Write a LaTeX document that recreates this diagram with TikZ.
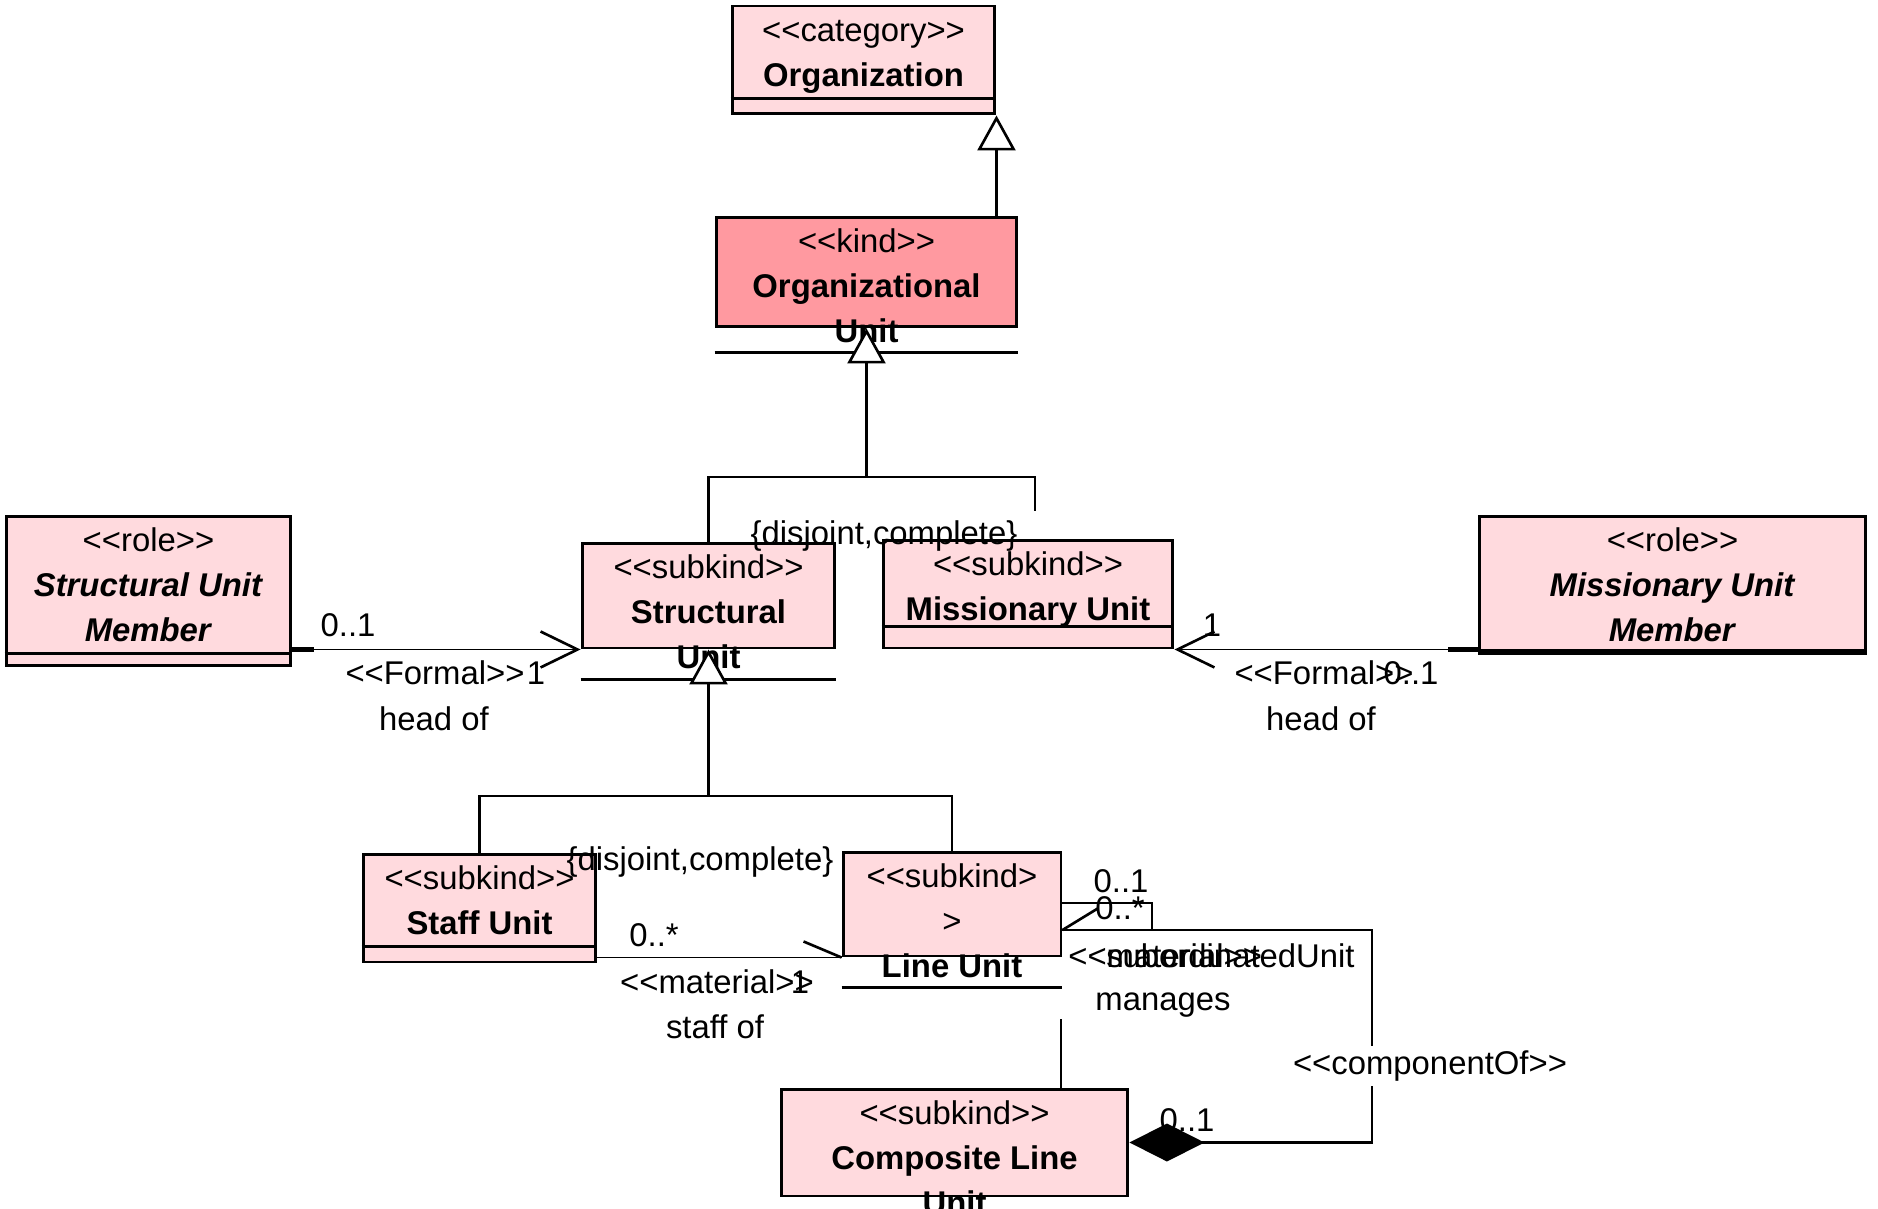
\documentclass[tikz,border=0pt]{standalone}
\usepackage{fontspec}
\setmainfont{Liberation Sans}[Ligatures=TeXOff]
\usetikzlibrary{arrows.meta}
\definecolor{classfill}{HTML}{FFDADE}
\definecolor{kindfill}{HTML}{FF99A0}

\begin{document}
\begin{tikzpicture}
    [x=0.02cm, y=-0.02cm,
    every node/.style={font=\fontsize{18.7}{25.6}\selectfont},
    class/.style={rectangle, draw, line width=1.7pt, fill=classfill, inner sep=0pt},
    kind/.style={class, fill=kindfill},
    title/.style={anchor=north, align=center, inner sep=0pt, yshift=-0.11cm},
    sep/.style={line width=1.7pt},
    genline/.style={line width=1.5pt},
    gen/.style={genline, -{Triangle[length=0.7cm, width=0.76cm, fill=white]}},
    assoc/.style={line width=0.9pt, -{Straight Barb[length=0.74cm, width=0.72cm, line width=1.5pt]}},
    link/.style={line width=1.5pt},
    stub/.style={line width=2.5pt},
    comp/.style={line width=1.5pt, {Diamond[length=1.5cm, width=0.76cm]}-},
    lbl/.style={inner sep=0pt},
    cut/.style={fill=white, inner sep=0.1cm}]

    \useasboundingbox (0,0) rectangle (1878,1209);

    % class boxes
    \node[class, minimum width=5.26cm, minimum height=2.16cm] (org) at (863.5,60) {};
    \node[kind, minimum width=6.02cm, minimum height=2.20cm] (ou) at (866.5,272) {};
    \node[class, minimum width=5.06cm, minimum height=2.10cm] (su) at (708.5,595.5) {};
    \node[class, minimum width=5.80cm, minimum height=2.16cm] (mu) at (1028,594) {};
    \node[class, minimum width=5.70cm, minimum height=3.00cm] (sum) at (148.5,591) {};
    \node[class, minimum width=7.74cm, minimum height=2.76cm] (mum) at (1672.5,585) {};
    \node[class, minimum width=4.66cm, minimum height=2.16cm] (staff) at (479.5,908) {};
    \node[class, minimum width=4.36cm, minimum height=2.08cm] (line) at (952,904) {};
    \node[class, minimum width=6.94cm, minimum height=2.14cm] (clu) at (954.5,1142.5) {};

    % class names
    \node[title] (orgT) at (org.north) {\strut<<category>>\\\textbf{Organization}};
    \node[title] (ouT) at (ou.north) {\strut<<kind>>\\\textbf{Organizational}\\\textbf{Unit}};
    \node[title] (suT) at (su.north) {\strut<<subkind>>\\\textbf{Structural}\\\textbf{Unit}};
    \node[title] (muT) at (mu.north) {\strut<<subkind>>\\\textbf{Missionary Unit}};
    \node[title] (sumT) at (sum.north) {\strut<<role>>\\\textbf{\itshape Structural Unit}\\\textbf{\itshape Member}};
    \node[title] (mumT) at (mum.north) {\strut<<role>>\\\textbf{\itshape Missionary Unit}\\\textbf{\itshape Member}};
    \node[title] (staffT) at (staff.north) {\strut<<subkind>>\\\textbf{Staff Unit}};
    \node[title] (lineT) at (line.north) {\strut<<subkind>\\>\\\textbf{Line Unit}};
    \node[title] (cluT) at (clu.north) {\strut<<subkind>>\\\textbf{Composite Line}\\\textbf{Unit}};

    % compartment lines
    \draw[sep] ([yshift=0.34cm]org.south west) -- ([yshift=0.34cm]org.south east);
    \draw[sep] ([yshift=-0.48cm]ou.south west) -- ([yshift=-0.48cm]ou.south east);
    \draw[sep] ([yshift=-0.6cm]su.south west) -- ([yshift=-0.6cm]su.south east);
    \draw[sep] ([yshift=0.46cm]mu.south west) -- ([yshift=0.46cm]mu.south east);
    \draw[sep] ([yshift=0.28cm]sum.south west) -- ([yshift=0.28cm]sum.south east);
    \draw[sep] ([yshift=0.1cm]mum.south west) -- ([yshift=0.1cm]mum.south east);
    \draw[sep] ([yshift=0.34cm]staff.south west) -- ([yshift=0.34cm]staff.south east);
    \draw[sep] ([yshift=-0.6cm]line.south west) -- ([yshift=-0.6cm]line.south east);

    % generalizations
    \draw[gen] (ou.north -| org.south east) -- (org.south east);

    \coordinate (g1) at (866.5,477);
    \coordinate (g1r) at (1035,511);
    \draw[genline] (su.north) |- (g1) -| (g1r);
    \draw[gen] (g1) -- (ou.south);

    \coordinate (g2) at (708.5,796);
    \draw[genline] (staff.north) |- (g2) -| (line.north);
    \draw[gen] (g2) -- (su.south);

    % head of associations
    \draw[assoc] (su.south west -| sum.east) -- (su.south west);
    \draw[stub] (su.south west -| sum.east) -- ++(22,0);
    \draw[assoc] (mu.south east -| mum.west) -- (mu.south east);
    \draw[stub] (mu.south east -| mum.west) -- ++(-30,0);

    % staff of
    \draw[line width=0.9pt] (line.south west -| staff.east) -- (line.south west);
    \draw[link] (line.south west) -- ++(-38,-16);

    % manages (self association)
    \coordinate (s1) at (1152,903);
    \coordinate (s2) at (1152,930);
    \draw[link] (line.east |- s1) -- (s1) -- (s2) -- (line.east |- s2);
    \draw[link] (line.east |- s2) -- ++(36,-22);

    % componentOf
    \coordinate (c1) at (1372,930);
    \draw[comp] (clu.east) -| (c1) -- (line.east |- c1);
    \coordinate (v1) at (1061,1019);
    \draw[link] (v1) -- (v1 |- clu.north);

    % labels
    \node[lbl] (d1) at (884,536) {\{disjoint,complete\}};
    \node[lbl] (d2) at (700,862) {\{disjoint,complete\}};

    \node[lbl] (fl1) at (348,625) {0..1};
    \node[lbl] (fl2) at (435,673) {<<Formal>>};
    \node[lbl] (fl3) at (536,673) {1};
    \node[lbl] (fl4) at (434,719) {head of};
    \node[lbl] (fr1) at (1212,625) {1};
    \node[lbl] (fr2) at (1324,673) {<<Formal>>};
    \node[lbl] (fr3) at (1411,673) {0..1};
    \node[lbl] (fr4) at (1321,719) {head of};

    \node[lbl] (ml1) at (654,935) {0..*};
    \node[lbl] (ml2) at (717,982) {<<material>>};
    \node[lbl] (ml3) at (800,982) {1};
    \node[lbl] (ml4) at (715,1027) {staff of};

    \node[lbl] (sl1) at (1121,881) {0..1};
    \node[lbl] (sl2) at (1120,908) {0..*};
    \node[lbl, anchor=west] (sl3) at (1068,956) {<<material>>};
    \node[lbl, anchor=east] (sl4) at (1355,956) {subordinatedUnit};
    \node[lbl] (sl5) at (1163,1005) {manages};

    \node[cut] (cl1) at (1430,1066) {<<componentOf>>};
    \node[lbl] (cl2) at (1187,1120) {0..1};

\end{tikzpicture}
\end{document}
